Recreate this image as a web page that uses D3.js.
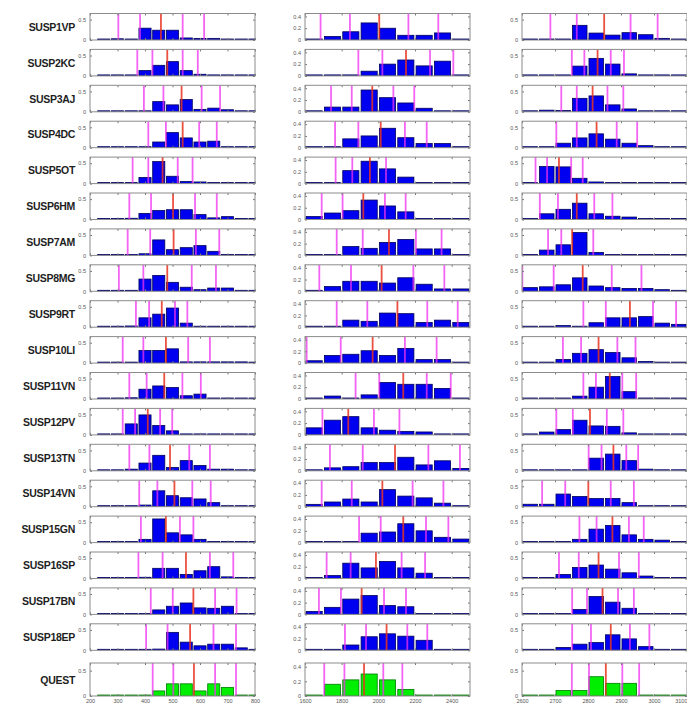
<!DOCTYPE html>
<html lang="en">
<head>
<meta charset="UTF-8">
<title>histograms</title>
<script src="https://cdn.jsdelivr.net/npm/d3@7/dist/d3.min.js"></script>
<style>
  body { margin: 0; background: #fff; }
  text { font-family: "Liberation Sans", Arial, sans-serif; }
</style>
</head>
<body>
<svg width="687" height="705"></svg>
<script>
// row names
var names = ["SUSP1VP", "SUSP2KC", "SUSP3AJ", "SUSP4DC", "SUSP5OT", "SUSP6HM", "SUSP7AM", "SUSP8MG", "SUSP9RT",
    "SUSP10LI", "SUSP11VN", "SUSP12PV", "SUSP13TN", "SUSP14VN", "SUSP15GN", "SUSP16SP", "SUSP17BN", "SUSP18EP", "QUEST"];

// bin centres and tick labels for each column
var binsA = [250, 300, 350, 400, 450, 500, 550, 600, 650, 700, 750, 800];
var binsB = [1650, 1750, 1850, 1950, 2050, 2150, 2250, 2350, 2450];
var binsC = [2625, 2675, 2725, 2775, 2825, 2875, 2925, 2975, 3025, 3075];
var ticksA = [200, 300, 400, 500, 600, 700, 800];
var ticksB = [1600, 1800, 2000, 2200, 2400];
var ticksC = [2600, 2700, 2800, 2900, 3000, 3100];

// column 1 : frequencies, median (red), percentile lines (magenta)
var histA = [
    [0, 0.03, 0.01, 0.29, 0.24, 0.24, 0.05, 0.04, 0.04, 0, 0, 0],
    [0, 0, 0, 0.13, 0.26, 0.35, 0.13, 0.04, 0.02, 0, 0, 0],
    [0, 0, 0, 0, 0.25, 0.17, 0.30, 0.06, 0.09, 0.05, 0, 0],
    [0, 0, 0, 0, 0.14, 0.37, 0.24, 0.14, 0.16, 0, 0, 0],
    [0, 0, 0, 0.15, 0.54, 0.18, 0.05, 0.04, 0.02, 0, 0, 0],
    [0, 0, 0.03, 0.15, 0.22, 0.24, 0.24, 0.12, 0.04, 0.07, 0, 0],
    [0, 0.01, 0.01, 0.04, 0.38, 0.14, 0.19, 0.24, 0.10, 0, 0, 0],
    [0, 0, 0, 0.30, 0.39, 0.22, 0.10, 0.04, 0.08, 0.08, 0, 0],
    [0, 0, 0.03, 0.23, 0.32, 0.47, 0.10, 0, 0, 0, 0, 0],
    [0, 0, 0, 0.31, 0.31, 0.35, 0.03, 0.03, 0.03, 0.03, 0.03, 0],
    [0, 0, 0.03, 0.24, 0.32, 0.28, 0.08, 0.12, 0, 0, 0, 0],
    [0, 0.01, 0.27, 0.49, 0.23, 0.10, 0, 0, 0, 0, 0, 0],
    [0, 0, 0.04, 0.19, 0.38, 0.08, 0.25, 0.13, 0.04, 0.04, 0, 0],
    [0, 0, 0, 0.04, 0.39, 0.27, 0.22, 0.19, 0.10, 0, 0, 0],
    [0, 0, 0, 0.08, 0.58, 0.24, 0.19, 0.08, 0, 0, 0, 0],
    [0, 0, 0, 0.03, 0.25, 0.25, 0.10, 0.19, 0.29, 0.04, 0, 0],
    [0, 0, 0, 0, 0.11, 0.20, 0.28, 0.16, 0.15, 0.20, 0, 0],
    [0.01, 0.01, 0.01, 0.01, 0.03, 0.44, 0.20, 0.11, 0.15, 0.15, 0.06, 0],
    [0, 0, 0, 0, 0.10, 0.24, 0.24, 0.10, 0.24, 0.17, 0, 0]
];
var medA = [458, 481, 533, 537, 464, 502, 504, 481, 461, 476, 470, 410, 491, 507, 476, 549, 576, 564, 578];
var pctA = [
    [303, 382, 537, 615], [372, 427, 537, 592], [396, 467, 606, 673], [412, 476, 597, 661],
    [355, 412, 519, 573], [343, 422, 582, 661], [337, 419, 585, 670], [305, 394, 570, 658],
    [367, 415, 509, 554], [319, 394, 557, 636], [343, 406, 536, 603], [319, 364, 455, 499],
    [343, 416, 561, 636], [379, 445, 572, 639], [385, 527, 576], [376, 464, 636, 721],
    [421, 501, 655, 733], [404, 482, 649, 731], [428, 503, 655, 731]
];

// column 2
var histB = [
    [0.01, 0.06, 0.14, 0.29, 0.20, 0.08, 0.08, 0.12, 0],
    [0, 0, 0, 0.08, 0.20, 0.27, 0.17, 0.25, 0],
    [0, 0.08, 0.08, 0.37, 0.24, 0.15, 0.06, 0, 0],
    [0, 0, 0.15, 0.20, 0.33, 0.17, 0.07, 0.07, 0],
    [0, 0, 0.22, 0.38, 0.25, 0.11, 0, 0, 0],
    [0.05, 0.11, 0.15, 0.33, 0.23, 0.13, 0, 0, 0],
    [0, 0, 0.15, 0.12, 0.22, 0.27, 0.11, 0.11, 0],
    [0, 0.08, 0.17, 0.17, 0.14, 0.23, 0.12, 0.04, 0.04],
    [0, 0, 0.12, 0.10, 0.24, 0.23, 0.08, 0.12, 0.08],
    [0.04, 0.13, 0.15, 0.21, 0.13, 0.25, 0.06, 0.06, 0],
    [0, 0.05, 0, 0.07, 0.28, 0.25, 0.25, 0.18, 0],
    [0.12, 0.25, 0.31, 0.12, 0.08, 0.06, 0.05, 0, 0],
    [0, 0.05, 0.07, 0.14, 0.14, 0.23, 0.10, 0.17, 0.04],
    [0.04, 0.08, 0.13, 0.08, 0.29, 0.18, 0.15, 0.06, 0],
    [0, 0, 0, 0.16, 0.18, 0.32, 0.20, 0.09, 0.06],
    [0, 0.05, 0.26, 0.18, 0.29, 0.18, 0.09, 0, 0],
    [0.05, 0.12, 0.26, 0.32, 0.15, 0.13, 0, 0, 0],
    [0, 0, 0.09, 0.23, 0.28, 0.24, 0.17, 0, 0],
    [0, 0.16, 0.22, 0.30, 0.22, 0.09, 0, 0, 0]
];
var medB = [2005, 2151, 1967, 2013, 1954, 1918, 2058, 2018, 2104, 1969, 2136, 1836, 2091, 2022, 2136, 1987, 1909, 2045, 1922];
var pctB = [
    [1685, 1845, 2164, 2327], [1891, 2022, 2282, 2409], [1742, 1855, 2082, 2196], [1764, 1891, 2145, 2264],
    [1767, 1858, 2042], [1691, 1805, 2036, 2149], [1773, 1915, 2205, 2345], [1678, 1851, 2191, 2360],
    [1773, 1940, 2267, 2433], [1609, 1795, 2145, 2318], [1876, 2005, 2264, 2395], [1695, 1976, 2115],
    [1736, 1915, 2273, 2445], [1691, 1855, 2187, 2355], [1895, 2013, 2260, 2382], [1718, 1849, 2127, 2255],
    [1676, 1796, 2031, 2151], [1818, 1933, 2158, 2267], [1705, 1815, 2027, 2131]
];

// column 3
var histC = [
    [0, 0, 0.02, 0.36, 0.17, 0.12, 0.18, 0.13, 0.04, 0],
    [0, 0, 0, 0.24, 0.43, 0.29, 0.05, 0, 0, 0],
    [0, 0.04, 0.03, 0.33, 0.39, 0.17, 0.07, 0, 0, 0],
    [0, 0, 0.11, 0.24, 0.34, 0.21, 0.11, 0.05, 0, 0],
    [0, 0.42, 0.41, 0.13, 0.04, 0, 0, 0, 0, 0],
    [0, 0.14, 0.25, 0.40, 0.14, 0.08, 0.06, 0, 0, 0],
    [0, 0.13, 0.26, 0.56, 0.07, 0, 0, 0, 0, 0],
    [0.09, 0.11, 0.16, 0.33, 0.13, 0.09, 0.07, 0.07, 0.04, 0],
    [0, 0, 0.04, 0, 0.11, 0.23, 0.23, 0.26, 0.10, 0.07],
    [0, 0, 0.09, 0.24, 0.33, 0.26, 0.13, 0.04, 0, 0],
    [0, 0, 0, 0.07, 0.29, 0.55, 0.18, 0, 0, 0],
    [0, 0.07, 0.13, 0.36, 0.22, 0.21, 0.05, 0, 0, 0],
    [0, 0, 0, 0, 0.31, 0.41, 0.25, 0.04, 0, 0],
    [0.06, 0.06, 0.31, 0.25, 0.20, 0.20, 0.10, 0, 0, 0],
    [0, 0, 0, 0.08, 0.33, 0.42, 0.19, 0.08, 0.06, 0],
    [0, 0, 0.10, 0.27, 0.33, 0.23, 0.14, 0.06, 0, 0],
    [0, 0, 0, 0.12, 0.44, 0.30, 0.15, 0, 0, 0],
    [0, 0, 0.07, 0.15, 0.19, 0.38, 0.28, 0.09, 0, 0],
    [0, 0, 0.11, 0.11, 0.38, 0.25, 0.25, 0, 0, 0]
];
var medC = [2849, 2829, 2814, 2826, 2712, 2766, 2752, 2784, 2927, 2832, 2866, 2806, 2877, 2801, 2874, 2832, 2844, 2869, 2854];
var pctC = [
    [2686, 2766, 2929, 3011], [2751, 2789, 2869, 2909], [2719, 2766, 2859, 2907], [2704, 2766, 2887, 2949],
    [2641, 2676, 2749, 2784], [2654, 2709, 2819, 2874], [2679, 2719, 2816], [2601, 2696, 2872, 2962],
    [2786, 2854, 2997, 3067], [2724, 2779, 2889, 2944], [2786, 2824, 2904, 2946], [2704, 2754, 2857, 2907],
    [2802, 2841, 2916, 2952], [2661, 2731, 2869, 2939], [2774, 2826, 2924, 2969], [2712, 2772, 2894, 2954],
    [2752, 2797, 2891, 2939], [2752, 2809, 2927, 2986], [2751, 2803, 2904, 2955]
];

var svg = d3.select("svg");

var cols = [
    {left: 90, width: 165, dom: [200, 800], bins: binsA, bw: 50, ymax: 0.65, yt: [0, 0.5], xt: ticksA, hist: histA, med: medA, pct: pctA},
    {left: 305, width: 165, dom: [1600, 2500], bins: binsB, bw: 100, ymax: 0.45, yt: [0, 0.2, 0.4], xt: ticksB, hist: histB, med: medB, pct: pctB},
    {left: 522, width: 165, dom: [2600, 3100], bins: binsC, bw: 50, ymax: 0.65, yt: [0, 0.5], xt: ticksC, hist: histC, med: medC, pct: pctC}
];

function rowTop(i) { return i < 18 ? 13.5 + i * 35.9 : 663; }
function rowH(i) { return i < 18 ? 26.5 : 33; }
var fmt = function (d) { return d === 0 ? "0" : d3.format(".1f")(d); };

// row names
svg.selectAll(".rowname")
    .data(names)
    .enter()
    .append("text")
    .attr("class", "rowname")
    .attr("x", 75)
    .attr("y", function (d, i) { return rowTop(i) + rowH(i) / 2 + 4; })
    .attr("text-anchor", "end")
    .attr("font-size", 10.5)
    .attr("font-weight", "bold")
    .attr("letter-spacing", -0.3)
    .attr("fill", "#1e1e1e")
    .text(function (d) { return d; });

var clipId = 0;
cols.forEach(function (c, ci) {
    names.forEach(function (nm, ri) {
        var h = rowH(ri);
        var last = ri === names.length - 1;
        var g = svg.append("g").attr("transform", "translate(" + c.left + "," + rowTop(ri) + ")");
        var x = d3.scaleLinear().domain(c.dom).range([0, c.width]);
        var y = d3.scaleLinear().domain([0, c.ymax]).range([h, 0]);

        g.append("rect").attr("width", c.width).attr("height", h).attr("fill", "#fff");

        var id = "clip" + (clipId++);
        g.append("clipPath").attr("id", id)
            .append("rect").attr("width", c.width).attr("height", h);
        var inner = g.append("g").attr("clip-path", "url(#" + id + ")");

        // bars
        var half = c.bw * 0.44;
        inner.selectAll("rect.bar")
            .data(c.hist[ri])
            .enter()
            .append("rect")
            .attr("class", "bar")
            .attr("x", function (d, i) { return x(c.bins[i] - half); })
            .attr("width", function (d, i) { return x(c.bins[i] + half) - x(c.bins[i] - half); })
            .attr("y", function (d) { return Math.min(y(d), h - 1); })
            .attr("height", function (d) { return Math.max(h - y(d), 1); })
            .attr("fill", last ? "#00ee00" : "#0000f0")
            .attr("stroke", last ? "#007a00" : "#00005a")
            .attr("stroke-width", 0.8);

        // percentile lines
        inner.selectAll("line.pct")
            .data(c.pct[ri])
            .enter()
            .append("line")
            .attr("class", "pct")
            .attr("x1", function (d) { return x(d); })
            .attr("x2", function (d) { return x(d); })
            .attr("y1", 0)
            .attr("y2", h)
            .attr("stroke", "#f030f0")
            .attr("stroke-opacity", 0.75)
            .attr("stroke-width", 1.8);

        // median line
        inner.append("line")
            .attr("x1", x(c.med[ri]))
            .attr("x2", x(c.med[ri]))
            .attr("y1", 0)
            .attr("y2", h)
            .attr("stroke", "#e8321e")
            .attr("stroke-opacity", 0.85)
            .attr("stroke-width", 1.8);

        // axes with inward ticks
        var yl = g.append("g")
            .call(d3.axisLeft(y).tickValues(c.yt).tickSizeInner(-2).tickSizeOuter(0).tickPadding(4).tickFormat(fmt));
        var yr = g.append("g").attr("transform", "translate(" + c.width + ",0)")
            .call(d3.axisRight(y).tickValues(c.yt).tickSizeInner(-2).tickSizeOuter(0).tickFormat(""));
        var xt = g.append("g")
            .call(d3.axisTop(x).tickValues(c.xt).tickSizeInner(-2).tickSizeOuter(0).tickFormat(""));
        var xb = g.append("g").attr("transform", "translate(0," + h + ")")
            .call(d3.axisBottom(x).tickValues(c.xt).tickSizeInner(-2).tickSizeOuter(0).tickPadding(3)
                .tickFormat(last ? d3.format("d") : ""));
        [yl, yr, xt, xb].forEach(function (a) {
            a.select(".domain").remove();
            a.selectAll("line").attr("stroke", "#777");
            a.selectAll("text").attr("font-size", 5.5).attr("fill", "#555")
                .style("font-family", "'Liberation Sans', Arial, sans-serif");
        });
        // keep the rightmost tick label inside the page
        if (last && ci === cols.length - 1) {
            xb.selectAll(".tick text")
                .filter(function (d) { return d === c.dom[1]; })
                .attr("text-anchor", "end");
        }

        // frame
        g.append("rect").attr("width", c.width).attr("height", h)
            .attr("fill", "none").attr("stroke", "#8c8c8c").attr("stroke-width", 1);
    });
});
</script>
</body>
</html>
